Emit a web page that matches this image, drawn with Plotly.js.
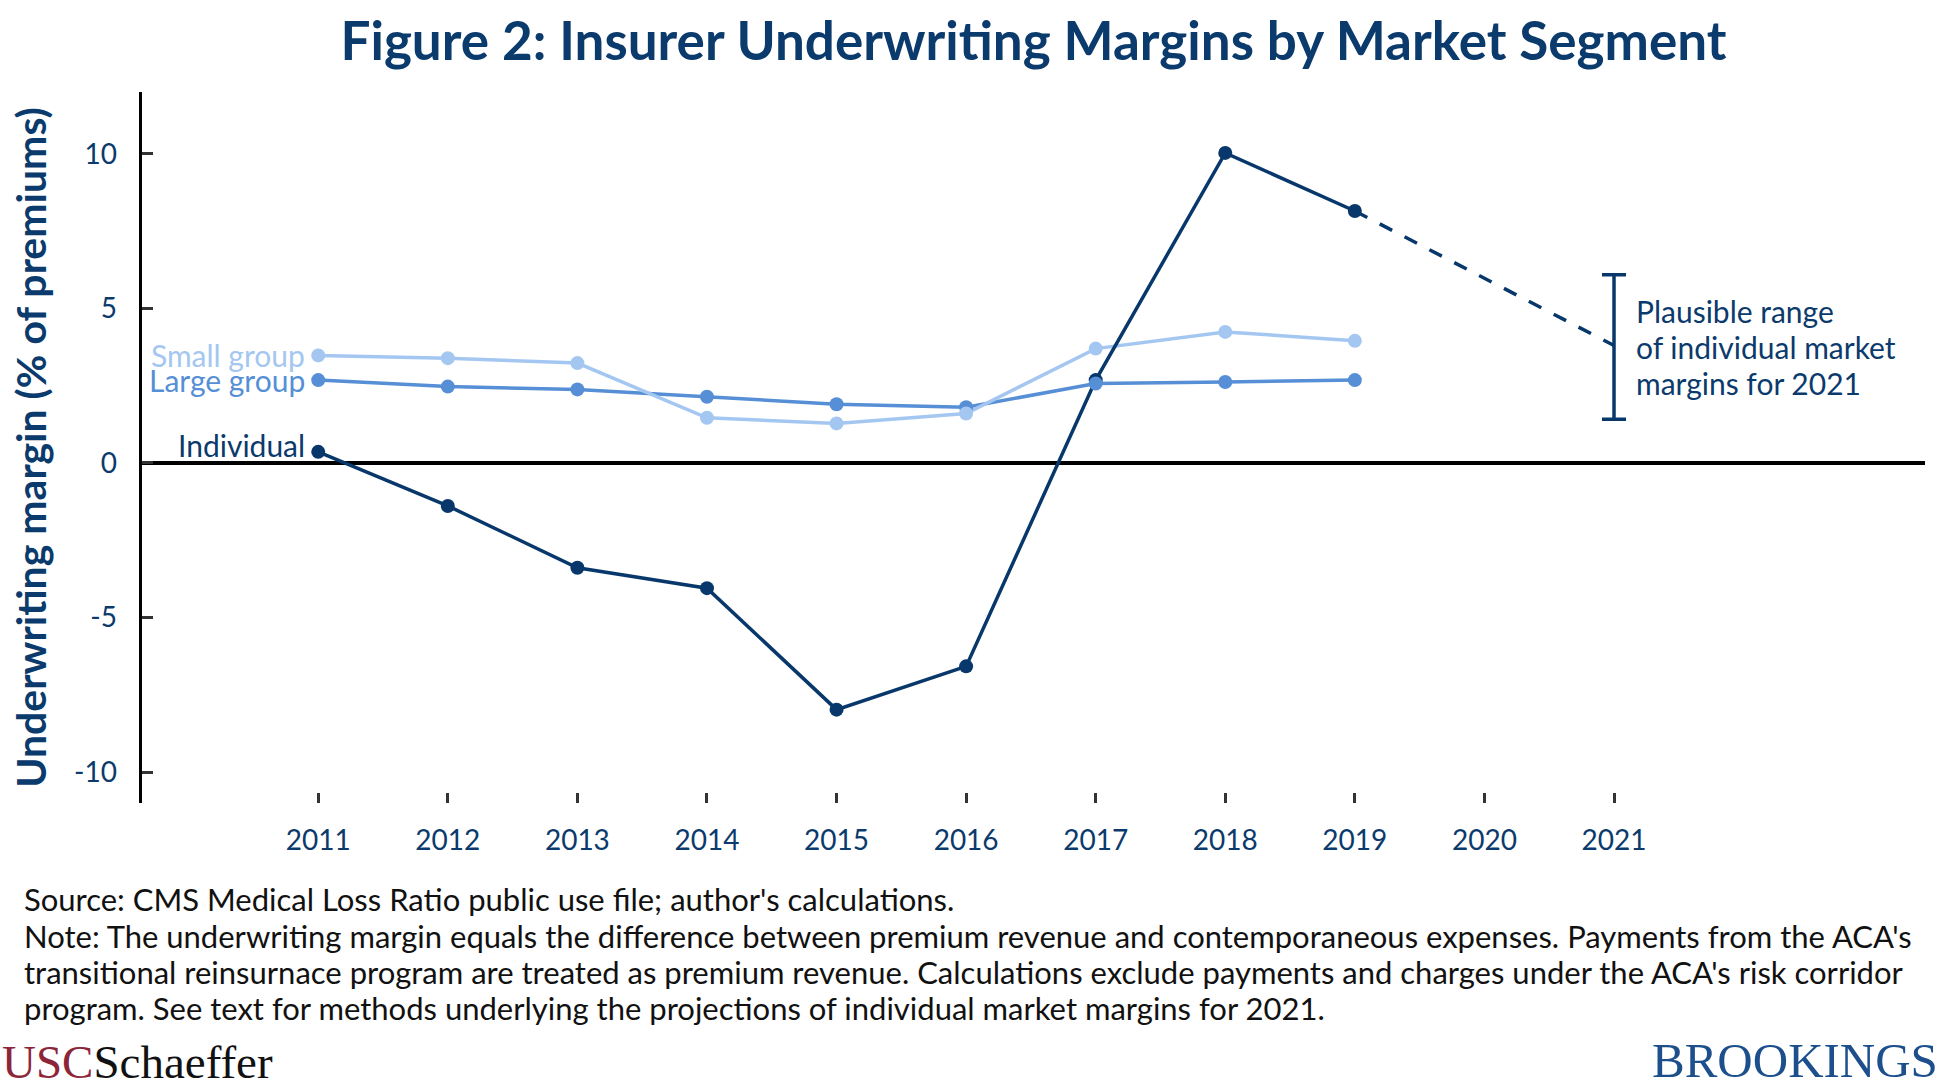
<!DOCTYPE html>
<html>
<head>
<meta charset="utf-8">
<script src="https://cdn.plot.ly/plotly-3.0.1.min.js"></script>
<style>
html, body { margin: 0; padding: 0; background: #ffffff; }
#chart { width: 1950px; height: 1088px; }
</style>
</head>
<body>
<div id="chart"></div>
<script>
// ---- Data ----
const years = [2011, 2012, 2013, 2014, 2015, 2016, 2017, 2018, 2019];
const individual = [0.36, -1.39, -3.39, -4.05, -7.98, -6.58, 2.68, 10.03, 8.15];
const largeGroup = [2.68, 2.47, 2.38, 2.14, 1.90, 1.80, 2.57, 2.62, 2.68];
const smallGroup = [3.48, 3.39, 3.23, 1.46, 1.28, 1.60, 3.70, 4.24, 3.95];
const projectionYears = [2019, 2021];
const projectionValues = [8.15, 3.8];
const rangeYear = 2021;
const rangeLow = 1.41;
const rangeHigh = 6.09;
const tickYears = [2011, 2012, 2013, 2014, 2015, 2016, 2017, 2018, 2019, 2020, 2021];
const tickYearLabels = ["2011", "2012", "2013", "2014", "2015", "2016", "2017", "2018", "2019", "2020", "2021"];
const yTicks = [-10, -5, 0, 5, 10];
const yTickLabels = ["-10", "-5", "0", "5", "10"];
const seriesNames = ["Individual", "Large group", "Small group"];
const rangeTextLines = ["Plausible range", "of individual market", "margins for 2021"];
const noteLines = [
  "Source: CMS Medical Loss Ratio public use file; author's calculations.",
  "Note: The underwriting margin equals the difference between premium revenue and contemporaneous expenses. Payments from the ACA's",
  "transitional reinsurnace program are treated as premium revenue. Calculations exclude payments and charges under the ACA's risk corridor",
  "program. See text for methods underlying the projections of individual market margins for 2021."
];

const navy = "#08386b";
const textNavy = "#0b3a6c";
const midBlue = "#568fd6";
const lightBlue = "#a4c7f1";
const FONT = "Lato, 'Open Sans', sans-serif";

const rangeMid = (rangeLow + rangeHigh) / 2;
const rangeHalf = (rangeHigh - rangeLow) / 2;

function lineTrace(y, name, color) {
  return { x: years, y: y, name: name, type: "scatter", mode: "lines",
           line: { color: color, width: 3.5 } };
}
function markerTrace(y, name, color) {
  return { x: years, y: y, name: name, type: "scatter", mode: "markers",
           marker: { color: color, size: 14 } };
}

const traces = [
  lineTrace(largeGroup, seriesNames[1], midBlue),
  lineTrace(smallGroup, seriesNames[2], lightBlue),
  {
    x: projectionYears, y: projectionValues, name: "Projection", type: "scatter", mode: "lines",
    line: { color: navy, width: 3.5, dash: "14px,14px" }
  },
  lineTrace(individual, seriesNames[0], navy),
  markerTrace(individual, seriesNames[0], navy),
  markerTrace(largeGroup, seriesNames[1], midBlue),
  markerTrace(smallGroup, seriesNames[2], lightBlue),
  {
    x: [rangeYear], y: [rangeMid], name: "Plausible range", type: "scatter", mode: "markers",
    marker: { size: 1, opacity: 0 },
    error_y: { type: "data", array: [rangeHalf], visible: true, color: navy, thickness: 3.5, width: 12 }
  }
];

const noteFont = { family: FONT, size: 31, color: "#111111" };
const noteY = [-0.135, -0.1865, -0.237, -0.288];

const annotations = [
  {
    xref: "x", yref: "y", x: years[0], y: smallGroup[0], text: seriesNames[2],
    xanchor: "right", yanchor: "middle", xshift: -11, showarrow: false,
    font: { family: FONT, size: 30, color: lightBlue }
  },
  {
    xref: "x", yref: "y", x: years[0], y: largeGroup[0], text: seriesNames[1],
    xanchor: "right", yanchor: "middle", xshift: -11, showarrow: false,
    font: { family: FONT, size: 30, color: midBlue }
  },
  {
    xref: "x", yref: "y", x: years[0], y: individual[0], text: seriesNames[0],
    xanchor: "right", yanchor: "middle", xshift: -11, yshift: 7, showarrow: false,
    font: { family: FONT, size: 30, color: textNavy }
  }
];

rangeTextLines.forEach(function (t, i) {
  annotations.push({
    xref: "x", yref: "y", x: rangeYear, y: rangeMid, text: t,
    xanchor: "left", yanchor: "middle", align: "left", xshift: 20, yshift: 36 * (1 - i),
    showarrow: false, font: { family: FONT, size: 30, color: textNavy }
  });
});

noteLines.forEach(function (t, i) {
  annotations.push({
    xref: "paper", yref: "paper", x: -0.0673, y: noteY[i], text: t,
    xanchor: "left", yanchor: "middle", align: "left", showarrow: false, font: noteFont
  });
});

annotations.push({
  xref: "paper", yref: "paper", x: -0.0796, y: -0.364,
  text: "<span style='color:#8c2538'>USC</span><span style='color:#111111'>Schaeffer</span>",
  xanchor: "left", yanchor: "middle", showarrow: false,
  font: { family: "'Liberation Serif', 'DejaVu Serif', serif", size: 47, color: "#111111" }
});
annotations.push({
  xref: "paper", yref: "paper", x: 1.0084, y: -0.362,
  text: "BROOKINGS",
  xanchor: "right", yanchor: "middle", showarrow: false,
  font: { family: "'Liberation Serif', 'DejaVu Serif', serif", size: 49, color: "#1d4f8c" }
});

const layout = {
  width: 1950, height: 1088,
  paper_bgcolor: "#ffffff", plot_bgcolor: "#ffffff",
  margin: { l: 142, r: 25, t: 92, b: 285, pad: 0 },
  showlegend: false,
  title: {
    text: "<b>Figure 2: Insurer Underwriting Margins by Market Segment</b>",
    xref: "paper", x: 0.5, xanchor: "center",
    yref: "container", y: 0.962, yanchor: "middle",
    font: { family: FONT, size: 53, color: textNavy }
  },
  xaxis: {
    range: [2009.64, 2023.4],
    tickvals: tickYears, ticktext: tickYearLabels,
    ticks: "inside", ticklen: 10, tickwidth: 3, tickcolor: "#333333",
    showline: false, showgrid: false, zeroline: false,
    ticklabelstandoff: 18,
    tickfont: { family: FONT, size: 28, color: textNavy }
  },
  yaxis: {
    range: [-11, 12],
    tickvals: yTicks, ticktext: yTickLabels,
    ticks: "inside", ticklen: 11, tickwidth: 3, tickcolor: "#333333",
    showline: true, linecolor: "#000000", linewidth: 3.5,
    showgrid: false,
    zeroline: true, zerolinecolor: "#000000", zerolinewidth: 3.5,
    ticklabelstandoff: 16,
    tickfont: { family: FONT, size: 28, color: textNavy },
    title: {
      text: "<b>Underwriting margin (% of premiums)</b>",
      standoff: 15,
      font: { family: FONT, size: 41, color: textNavy }
    }
  },
  annotations: annotations
};

Plotly.newPlot("chart", traces, layout, { staticPlot: true, displayModeBar: false });
</script>
</body>
</html>
